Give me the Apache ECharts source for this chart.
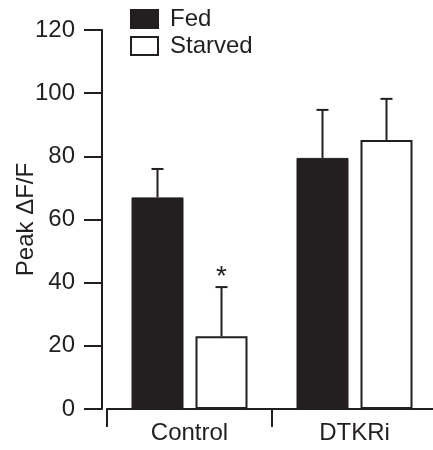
<!DOCTYPE html>
<html>
<head>
<meta charset="utf-8">
<script src="https://cdn.jsdelivr.net/npm/echarts@6/dist/echarts.min.js"></script>
<style>
  html, body { margin: 0; padding: 0; background: #fff; }
  #chart { width: 433px; height: 450px; }
</style>
</head>
<body>
<div id="chart"></div>
<script>
// ---- data ----
const categories = ['Control', 'DTKRi'];
const seriesNames = ['Fed', 'Starved'];
const fedMean = [67, 79.5];
const fedErr = [9, 15.2];
const starvedMean = [23, 85.2];
const starvedErr = [15.6, 13];
const starvedMarks = ['*', ''];
const fedMarks = ['', ''];
const yMin = 0, yMax = 120, yInterval = 20;

// ---- style ----
const INK = '#231f20';
const FONT = 'Liberation Sans, Arial, sans-serif';
const BAR_W = 52;
const BAR_GAP_PX = 12;
const HALF_SHIFT = (BAR_W + BAR_GAP_PX) / 2;

function errRender(sign, means, errs, marks) {
  return function (params, api) {
    const i = api.value(0);
    const m = api.value(1);
    const e = api.value(2);
    const cx = api.coord([i, 0])[0] + sign * HALF_SHIFT;
    const yb = api.coord([i, m])[1];
    const yt = api.coord([i, m + e])[1];
    const children = [
      { type: 'line', shape: { x1: cx, y1: yb, x2: cx, y2: yt }, style: { stroke: INK, lineWidth: 2 } },
      { type: 'line', shape: { x1: cx - 6, y1: yt, x2: cx + 6, y2: yt }, style: { stroke: INK, lineWidth: 2 } }
    ];
    const mk = marks[params.dataIndex];
    if (mk) {
      children.push({
        type: 'text',
        style: { text: mk, x: cx, y: yt - 10, align: 'center', verticalAlign: 'middle',
                 font: '28px ' + FONT, fill: INK }
      });
    }
    return { type: 'group', children: children };
  };
}

const chart = echarts.init(document.getElementById('chart'), null, { renderer: 'canvas' });
chart.setOption({
  animation: false,
  backgroundColor: '#fff',
  legend: {
    data: seriesNames,
    orient: 'vertical',
    left: 125,
    top: 2,
    itemWidth: 27,
    itemHeight: 18,
    itemGap: 3,
    icon: 'rect',
    textStyle: { fontSize: 24, color: INK, fontFamily: FONT, padding: [0, 0, 0, 7] }
  },
  grid: { left: 107, top: 30, width: 330, bottom: 41, containLabel: false, outerBoundsMode: 'none' },
  xAxis: {
    type: 'category',
    data: categories,
    offset: 4,
    axisLine: { lineStyle: { color: INK, width: 2 } },
    axisTick: { show: true, length: 18, lineStyle: { color: INK, width: 2 } },
    axisLabel: { fontSize: 24, color: INK, fontFamily: FONT, margin: 8 }
  },
  yAxis: {
    type: 'value',
    min: yMin, max: yMax, interval: yInterval,
    offset: 5,
    name: 'Peak ΔF/F',
    nameLocation: 'middle',
    nameGap: 64,
    nameMoveOverlap: false,
    nameTextStyle: { fontSize: 24, color: INK, fontFamily: FONT },
    splitLine: { show: false },
    axisLine: { show: true, lineStyle: { color: INK, width: 2 } },
    axisTick: { show: true, length: 18, lineStyle: { color: INK, width: 2 } },
    axisLabel: { fontSize: 24, color: INK, fontFamily: FONT, margin: 27 }
  },
  series: [
    {
      name: 'Fed', type: 'bar', data: fedMean,
      barWidth: BAR_W, barGap: (BAR_GAP_PX / BAR_W * 100) + '%',
      itemStyle: { color: INK, borderColor: INK, borderWidth: 1 }
    },
    {
      name: 'Starved', type: 'bar', data: starvedMean,
      barWidth: BAR_W,
      itemStyle: { color: '#fff', borderColor: INK, borderWidth: 2 }
    },
    {
      type: 'custom', name: 'FedErr', z: 1,
      data: categories.map((c, i) => [i, fedMean[i], fedErr[i]]),
      renderItem: errRender(-1, fedMean, fedErr, fedMarks)
    },
    {
      type: 'custom', name: 'StarvedErr', z: 1,
      data: categories.map((c, i) => [i, starvedMean[i], starvedErr[i]]),
      renderItem: errRender(1, starvedMean, starvedErr, starvedMarks)
    }
  ]
});
</script>
</body>
</html>
